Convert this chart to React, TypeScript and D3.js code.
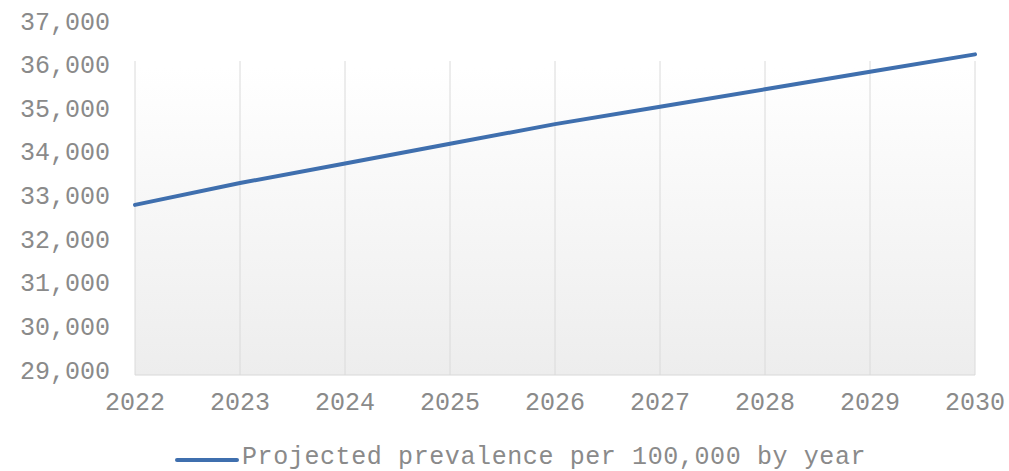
import React from "react";
import * as d3 from "d3";

const years: number[] = [2022, 2023, 2024, 2025, 2026, 2027, 2028, 2029, 2030];
const prevalence: number[] = [32900, 33400, 33850, 34300, 34750, 35150, 35550, 35950, 36350];
const yTicks: number[] = [29000, 30000, 31000, 32000, 33000, 34000, 35000, 36000, 37000];
const seriesName = "Projected prevalence per 100,000 by year";

const W = 1009;
const H = 471;
const FONT = "'Liberation Mono', 'Courier New', monospace";

export default function App() {
  const x = d3.scaleLinear().domain([2022, 2030]).range([135, 975]);
  const y = d3.scaleLinear().domain([29000, 37000]).range([375, 26]);
  const fmt = d3.format(",");
  const line = d3
    .line<number>()
    .x((_, i) => x(years[i]))
    .y((d) => y(d));

  return (
    <svg
      width={W}
      height={H}
      style={{ position: "absolute", left: 0, top: 0, background: "#fff" }}
    >
      <defs>
        <linearGradient id="bg" x1="0" y1="0" x2="0" y2="1">
          <stop offset="0%" stopColor="#ffffff" />
          <stop offset="12%" stopColor="#ffffff" />
          <stop offset="100%" stopColor="#ededed" />
        </linearGradient>
      </defs>
      <rect
        x={x(2022)}
        y={y(37000)}
        width={x(2030) - x(2022)}
        height={y(29000) - y(37000)}
        fill="url(#bg)"
      />
      {years.map((yr) => (
        <line
          key={yr}
          x1={x(yr)}
          x2={x(yr)}
          y1={y(37000) + 35}
          y2={y(29000)}
          stroke="#dadada"
          strokeWidth={1}
        />
      ))}
      <line x1={x(2022)} x2={x(2030)} y1={y(29000)} y2={y(29000)} stroke="#d8d8d8" strokeWidth={1} />
      {yTicks.map((t) => (
        <text
          key={t}
          x={110}
          y={y(t) - 3}
          textAnchor="end"
          dominantBaseline="central"
          fontFamily={FONT}
          fontSize={25}
          fill="#8a8a8a"
        >
          {fmt(t)}
        </text>
      ))}
      {years.map((yr) => (
        <text
          key={yr}
          x={x(yr)}
          y={403}
          textAnchor="middle"
          dominantBaseline="central"
          fontFamily={FONT}
          fontSize={25}
          fill="#8a8a8a"
        >
          {yr}
        </text>
      ))}
      <path
        d={line(prevalence) || ""}
        fill="none"
        stroke="#3f6fae"
        strokeWidth={4}
        strokeLinecap="round"
        strokeLinejoin="round"
      />
      <line x1={177} x2={237} y1={460} y2={460} stroke="#3f6fae" strokeWidth={4} strokeLinecap="round" />
      <text
        x={242}
        y={457}
        dominantBaseline="central"
        fontFamily={FONT}
        fontSize={25}
        letterSpacing={0.6}
        fill="#8a8a8a"
      >
        {seriesName}
      </text>
    </svg>
  );
}
